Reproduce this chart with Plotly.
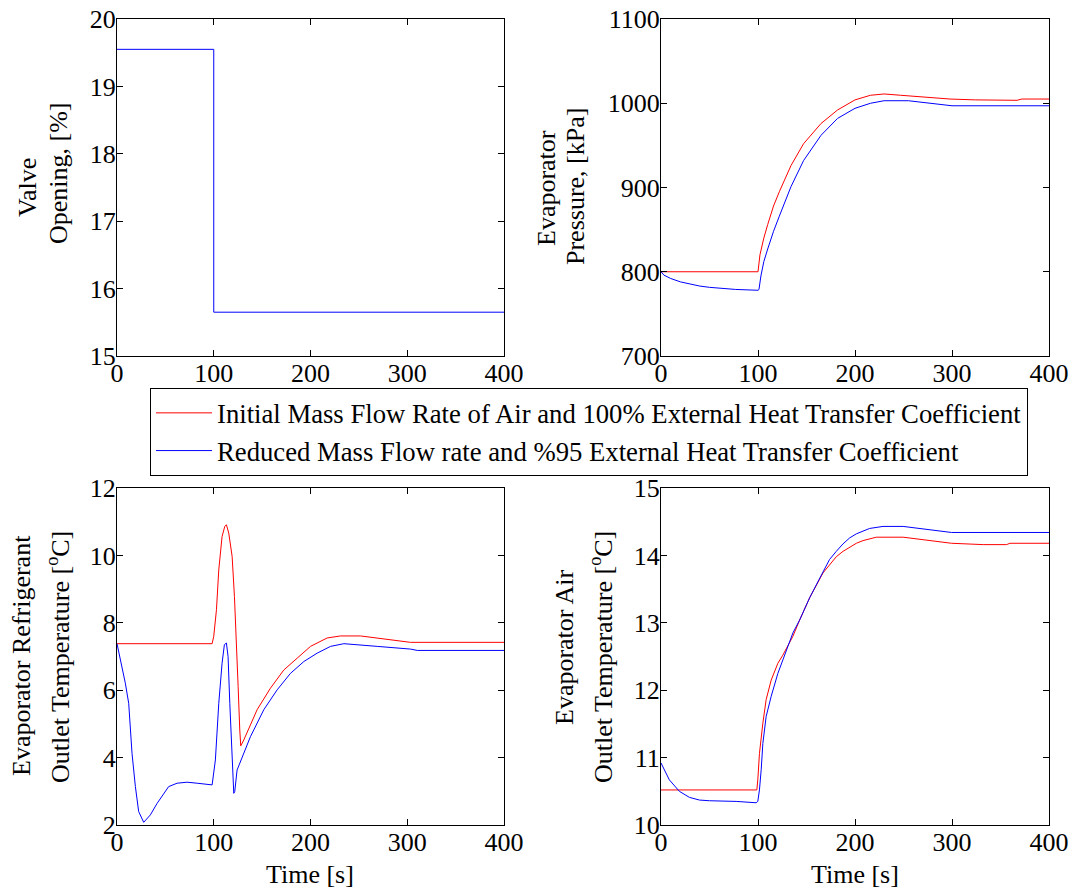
import plotly.graph_objects as go

W, H = 1075, 888
FONT = "Liberation Serif"

# ---------------- data ----------------
names = [
    "Initial Mass Flow Rate of Air and 100% External Heat Transfer Coefficient",
    "Reduced Mass Flow rate and %95 External Heat Transfer Coefficient",
]

# Valve opening [%] (same for both cases; the red curve is hidden under the blue one)
valve_t = [0, 100, 100, 400]
valve_open = [19.55, 19.55, 15.65, 15.65]

# Evaporator pressure [kPa]
pres_red_t = [0, 100, 102, 106, 110, 116, 122, 134, 147, 165, 182, 200, 216, 230, 247, 275, 298, 324, 367, 372, 400]
pres_red = [800, 800, 820, 840, 856, 878, 895, 926, 952, 976, 992, 1004, 1009.5, 1011, 1009.5, 1007, 1005, 1004, 1003.5, 1005, 1005]
pres_blue_t = [0, 3, 10, 20, 30, 40, 50, 60, 77, 100, 101, 103, 106, 110, 116, 122, 134, 147, 165, 182, 200, 216, 230, 255, 275, 300, 400]
pres_blue = [800, 796, 792, 788, 785.5, 783, 781.5, 780.5, 779, 778, 779, 795, 812, 827, 848, 866, 901, 932, 962, 982, 994, 1000, 1003, 1003, 1000, 997, 997]

# Evaporator refrigerant outlet temperature [C]
tref_red_t = [0, 98.3, 100, 102.8, 105.2, 108.6, 111.4, 113.1, 115.5, 119, 121.4, 123.4, 125.2, 126.9, 127.9,
              131, 144.8, 158.6, 172.4, 186.2, 200, 217.2, 231, 251.7, 269, 303.4, 400]
tref_red = [7.38, 7.38, 7.6, 8.39, 9.57, 10.56, 10.86, 10.91, 10.66, 9.97, 8.78, 7.59, 6.11, 4.82, 4.35,
            4.52, 5.42, 6.06, 6.60, 6.95, 7.30, 7.55, 7.61, 7.61, 7.54, 7.42, 7.42]
tref_blue_t = [0, 8.6, 12.1, 15.5, 19.0, 22.4, 27.6, 34.5, 41.4, 48.3, 53.4, 62.1, 72.4, 82.8, 96.6, 98.3,
               101.7, 105.2, 108.6, 111, 113.1, 114.8, 116.6, 119, 120.7, 121.7, 124.1, 137.9, 151.7, 165.5,
               179.3, 193.1, 206.9, 220.7, 234.5, 269, 303.4, 310.3, 400]
tref_blue = [7.38, 6.21, 5.61, 4.13, 3.14, 2.40, 2.08, 2.30, 2.64, 2.94, 3.14, 3.24, 3.27, 3.24, 3.19, 3.19,
             3.93, 5.61, 6.80, 7.35, 7.40, 7.0, 5.61, 3.93, 2.94, 2.99, 3.63, 4.62, 5.42, 6.01,
             6.50, 6.85, 7.10, 7.30, 7.38, 7.30, 7.22, 7.18, 7.18]

# Evaporator air outlet temperature [C]
tair_red_t = [0, 98.8, 99.8, 101.5, 105, 108.4, 113.6, 120.5, 125.6, 129.1, 136, 142.9, 153.2, 167, 173.8,
              180.7, 187.6, 194.5, 201.4, 208.3, 222, 249.6, 270.2, 299.5, 332.2, 356.3, 359.7, 400]
tair_red = [10.52, 10.52, 10.67, 11.06, 11.51, 11.86, 12.15, 12.40, 12.52, 12.62, 12.80, 13.04, 13.37, 13.74, 13.86,
            13.98, 14.06, 14.12, 14.18, 14.22, 14.27, 14.27, 14.23, 14.18, 14.16, 14.16, 14.18, 14.18]
tair_blue_t = [0, 8.6, 18.9, 29.3, 39.6, 49.9, 77.5, 98.1, 99.8, 101.5, 103.3, 105, 108.4, 113.6, 120.5, 125.6,
               129.1, 136, 142.9, 153.2, 160, 167, 173.8, 180.7, 187.6, 194.5, 201.4, 215.1, 228.9, 249.6,
               270.2, 299.5, 400]
tair_blue = [10.92, 10.67, 10.50, 10.41, 10.37, 10.36, 10.35, 10.33, 10.35, 10.52, 10.82, 11.21, 11.61, 11.91, 12.25, 12.45,
             12.60, 12.85, 13.04, 13.37, 13.56, 13.76, 13.94, 14.06, 14.17, 14.26, 14.32, 14.40, 14.43, 14.43,
             14.39, 14.34, 14.34]

x_ticks = [0, 100, 200, 300, 400]

# ---------------- figure ----------------
RED, BLUE = "#ff0000", "#0000ff"
fig = go.Figure()

# valve opening: one visible (blue) curve
fig.add_trace(go.Scatter(x=valve_t, y=valve_open, mode="lines", line=dict(color=BLUE, width=1),
                         name=names[1], showlegend=False, xaxis="x", yaxis="y"))

panels = [
    ("x2", "y2", pres_red_t, pres_red, pres_blue_t, pres_blue),
    ("x3", "y3", tref_red_t, tref_red, tref_blue_t, tref_blue),
    ("x4", "y4", tair_red_t, tair_red, tair_blue_t, tair_blue),
]
for i, (xa, ya, rt, rv, bt, bv) in enumerate(panels):
    fig.add_trace(go.Scatter(x=rt, y=rv, mode="lines", line=dict(color=RED, width=1),
                             name=names[0], showlegend=(i == 0), xaxis=xa, yaxis=ya))
    fig.add_trace(go.Scatter(x=bt, y=bv, mode="lines", line=dict(color=BLUE, width=1),
                             name=names[1], showlegend=(i == 0), xaxis=xa, yaxis=ya))

def px_x(p):
    return p / W

def px_y(p):
    return 1 - p / H

left_dom = [px_x(117), px_x(504)]
right_dom = [px_x(661), px_x(1049)]
top_dom = [px_y(356), px_y(19)]
bot_dom = [px_y(825), px_y(488)]

axis_common = dict(showgrid=False, zeroline=False, showline=True, linecolor="black", linewidth=1,
                   mirror="ticks", ticks="inside", ticklen=6, tickcolor="black", tickwidth=1,
                   automargin=False,
                   tickfont=dict(family=FONT, size=26, color="black"))
xax = dict(range=[0, 400], tickvals=x_ticks, ticklabelstandoff=-6, **axis_common)
yax = dict(ticklabelstandoff=-5, **axis_common)

fig.update_layout(
    width=W, height=H,
    margin=dict(l=0, r=0, t=0, b=0, autoexpand=False),
    paper_bgcolor="white", plot_bgcolor="white",
    font=dict(family=FONT, size=26, color="black"),
    xaxis=dict(domain=left_dom, anchor="y", **xax),
    yaxis=dict(domain=top_dom, anchor="x", range=[15, 20], dtick=1, **yax),
    xaxis2=dict(domain=right_dom, anchor="y2", **xax),
    yaxis2=dict(domain=top_dom, anchor="x2", range=[700, 1100], dtick=100, **yax),
    xaxis3=dict(domain=left_dom, anchor="y3", **xax),
    yaxis3=dict(domain=bot_dom, anchor="x3", range=[2, 12], dtick=2, **yax),
    xaxis4=dict(domain=right_dom, anchor="y4", **xax),
    yaxis4=dict(domain=bot_dom, anchor="x4", range=[10, 15], dtick=1, **yax),
    legend=dict(x=px_x(150), y=px_y(388), xanchor="left", yanchor="top",
                bordercolor="black", borderwidth=1, bgcolor="white", itemwidth=56,
                font=dict(family=FONT, size=26.7, color="black"), tracegroupgap=0),
    showlegend=True,
)

ann_font = dict(family=FONT, size=26, color="black")
annotations = [
    dict(text="Valve", x=27, y=188, textangle=-90),
    dict(text="Opening, [%]", x=58, y=173, textangle=-90),
    dict(text="Evaporator", x=546, y=188, textangle=-90),
    dict(text="Pressure, [kPa]", x=575, y=187, textangle=-90),
    dict(text="Evaporator Refrigerant", x=21, y=656, textangle=-90),
    dict(text="Outlet Temperature [<sup>o</sup>C]", x=58, y=657, textangle=-90),
    dict(text="Evaporator Air", x=564, y=647, textangle=-90),
    dict(text="Outlet Temperature [<sup>o</sup>C]", x=601, y=657, textangle=-90),
    dict(text="Time [s]", x=310, y=874, textangle=0),
    dict(text="Time [s]", x=855, y=874, textangle=0),
]
for a in annotations:
    a["x"] = px_x(a["x"])
    a["y"] = px_y(a["y"])
    fig.add_annotation(xref="paper", yref="paper", xanchor="center", yanchor="middle",
                       showarrow=False, font=ann_font, **a)

fig.write_html("out.html")
